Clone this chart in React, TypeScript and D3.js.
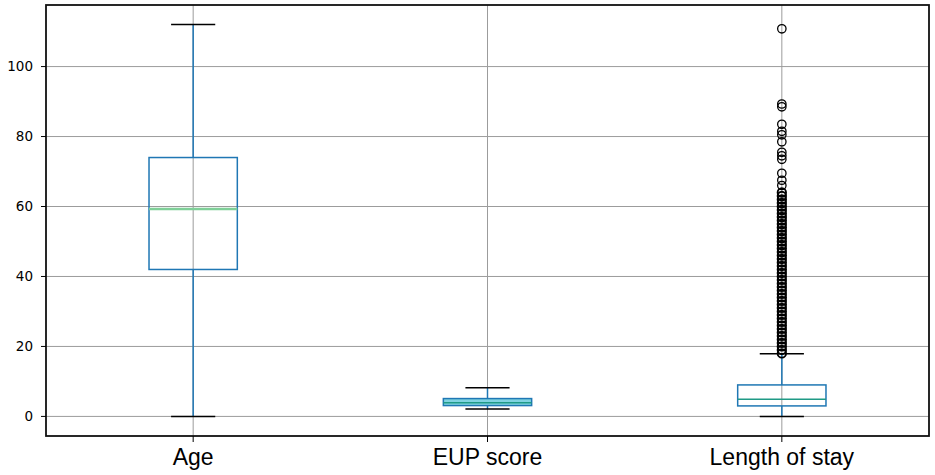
import React from "react";
import * as d3 from "d3";

const categories = ["Age", "EUP score", "Length of stay"];
const whiskerLow = [0, 2.1, 0];
const q1 = [42, 3.1, 3.0];
const medians = [59.3, 3.9, 4.9];
const q3 = [74, 5.1, 9.0];
const whiskerHigh = [112, 8.2, 17.9];
const losOutliers = [
  18, 19, 20, 21, 22, 23, 24, 25, 26, 27, 28, 29, 30, 31, 32, 33, 34, 35, 36, 37,
  38, 39, 40, 41, 42, 43, 44, 45, 46, 47, 48, 49, 50, 51, 52, 53, 54, 55, 56, 57,
  58, 59, 60, 61, 62, 63, 64, 66, 67.5, 69.5, 73.5, 74.5, 75.5, 78.5, 80.5, 81.5,
  83.5, 88.5, 89.3, 110.8,
];
const outliers = [[], [], losOutliers];
const yTicks = [0, 20, 40, 60, 80, 100];
const yDomain = [-5.6, 117.6];

const W = 935;
const H = 475;
const left = 46;
const right = 929;
const top = 5;
const bottom = 436;

export default function App() {
  const y = d3.scaleLinear().domain(yDomain).range([bottom, top]);
  const x = d3.scaleLinear().domain([0.5, 3.5]).range([left, right]);
  const unit = x(2) - x(1);
  const boxW = 0.3 * unit;
  const capW = 0.15 * unit;
  const grid = "#9c9c9c";
  const blue = "#1f77b4";

  return (
    <svg
      width={W}
      height={H}
      style={{ position: "absolute", left: 0, top: 0, display: "block", background: "#fff" }}
    >
      <rect x={0} y={0} width={W} height={H} fill="#fff" />
      {/* grid */}
      {yTicks.map((t) => (
        <line key={"gy" + t} x1={left} x2={right} y1={y(t)} y2={y(t)} stroke={grid} strokeWidth={1} />
      ))}
      {categories.map((c, i) => (
        <line key={"gx" + c} x1={x(i + 1)} x2={x(i + 1)} y1={top} y2={bottom} stroke={grid} strokeWidth={1} />
      ))}
      {/* boxes */}
      {categories.map((c, i) => {
        const cx = x(i + 1);
        return (
          <g key={"b" + c}>
            <line x1={cx} x2={cx} y1={y(q3[i])} y2={y(whiskerHigh[i])} stroke={blue} strokeWidth={1.5} />
            <line x1={cx} x2={cx} y1={y(q1[i])} y2={y(whiskerLow[i])} stroke={blue} strokeWidth={1.5} />
            <line x1={cx - capW / 2} x2={cx + capW / 2} y1={y(whiskerHigh[i])} y2={y(whiskerHigh[i])} stroke="#000" strokeWidth={1.5} />
            <line x1={cx - capW / 2} x2={cx + capW / 2} y1={y(whiskerLow[i])} y2={y(whiskerLow[i])} stroke="#000" strokeWidth={1.5} />
            <rect
              x={cx - boxW / 2}
              y={y(q3[i])}
              width={boxW}
              height={y(q1[i]) - y(q3[i])}
              fill={i === 1 ? "#7fd3e0" : "none"}
              stroke={blue}
              strokeWidth={1.5}
            />
            <line x1={cx - boxW / 2} x2={cx + boxW / 2} y1={y(medians[i])} y2={y(medians[i])} stroke={i === 0 ? "#7fcf98" : "#1f9a86"} strokeWidth={i === 0 ? 2.5 : 1.5} />
            {outliers[i].map((v, k) => (
              <circle key={k} cx={cx} cy={y(v)} r={4.2} fill="none" stroke="#000" strokeWidth={v < 64.5 ? 1.9 : 1.3} />
            ))}
          </g>
        );
      })}
      {/* spines */}
      <rect x={left} y={top} width={right - left} height={bottom - top} fill="none" stroke="#111" strokeWidth={1.8} />
      {/* y ticks */}
      {yTicks.map((t) => (
        <g key={"ty" + t}>
          <line x1={left - 5} x2={left} y1={y(t)} y2={y(t)} stroke="#000" strokeWidth={1} />
          <text
            x={left - 13}
            y={y(t)}
            dy="0.36em"
            textAnchor="end"
            fontFamily="DejaVu Sans"
            fontSize={13.5}
            fill="#000"
          >
            {t}
          </text>
        </g>
      ))}
      {/* x ticks */}
      {categories.map((c, i) => (
        <g key={"tx" + c}>
          <line x1={x(i + 1)} x2={x(i + 1)} y1={bottom} y2={bottom + 6} stroke="#000" strokeWidth={1} />
          <text
            x={x(i + 1)}
            y={465}
            textAnchor="middle"
            fontFamily="Liberation Sans"
            fontSize={23}
            fill="#000"
          >
            {c}
          </text>
        </g>
      ))}
    </svg>
  );
}
